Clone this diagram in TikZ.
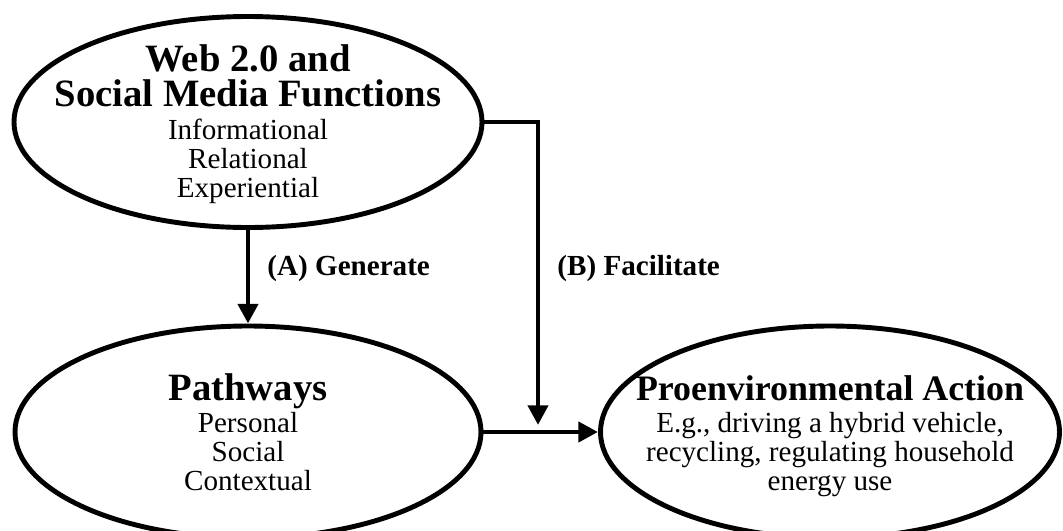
\documentclass[tikz,border=0pt]{standalone}
\usepackage{fontspec}
\setmainfont{Liberation Serif}
\usetikzlibrary{shapes.geometric,arrows.meta}
\newcommand{\ttlfont}{\fontsize{27.5pt}{23pt}\selectfont\bfseries}
\newcommand{\actfont}{\fontsize{25.5pt}{22pt}\selectfont\bfseries}
\begin{document}
\begin{tikzpicture}[line width=3.5pt,
    bubble/.style={ellipse,draw,inner sep=0pt,minimum height=5.3cm},
    words/.style={align=center,inner sep=0pt,font=\fontsize{20.7pt}{20.6pt}\selectfont},
    flow/.style={-{Triangle[length=14pt,width=14pt]},line width=3.5pt},
    flowlabel/.style={anchor=west,inner sep=0pt,font=\fontsize{20.7pt}{21pt}\selectfont\bfseries}]
    \useasboundingbox (0,0) rectangle (26.575,-13.275);
    % functions
    \node[bubble,minimum width=11.7cm,minimum height=5.275cm] (web) at (6.2,-3.05) {};
    \node[words] (webtext) at ([yshift=-0.05cm]web.center)
        {{\ttlfont Web 2.0 and}\\[4pt] {\ttlfont Social Media Functions}\\[3pt]
         Informational\\ Relational\\ Experiential};
    % pathways
    \node[bubble,minimum width=11.65cm] (path) at (6.2,-10.8) {};
    \node[words] (pathtext) at (path.center)
        {{\ttlfont Pathways}\\[2pt] Personal\\ Social\\ Contextual};
    % action
    \node[bubble,minimum width=11.475cm] (act) at (20.75,-10.8) {};
    \node[words] (acttext) at ([yshift=-0.1cm]act.center)
        {{\actfont Proenvironmental Action}\\[2pt] E.g., driving a hybrid vehicle,\\
         recycling, regulating household\\ energy use};
    % arrows
    \coordinate (join) at (13.45,-10.625);
    \draw[flow] (web) -- (path);
    \draw[flow] (web.east) -| (join);
    \draw[flow] (path.east) -- (act.west);
    \node[flowlabel] (gen) at (6.625,-6.7) {(A) Generate};
    \node[flowlabel] (fac) at (13.875,-6.7) {(B) Facilitate};
\end{tikzpicture}
\end{document}
